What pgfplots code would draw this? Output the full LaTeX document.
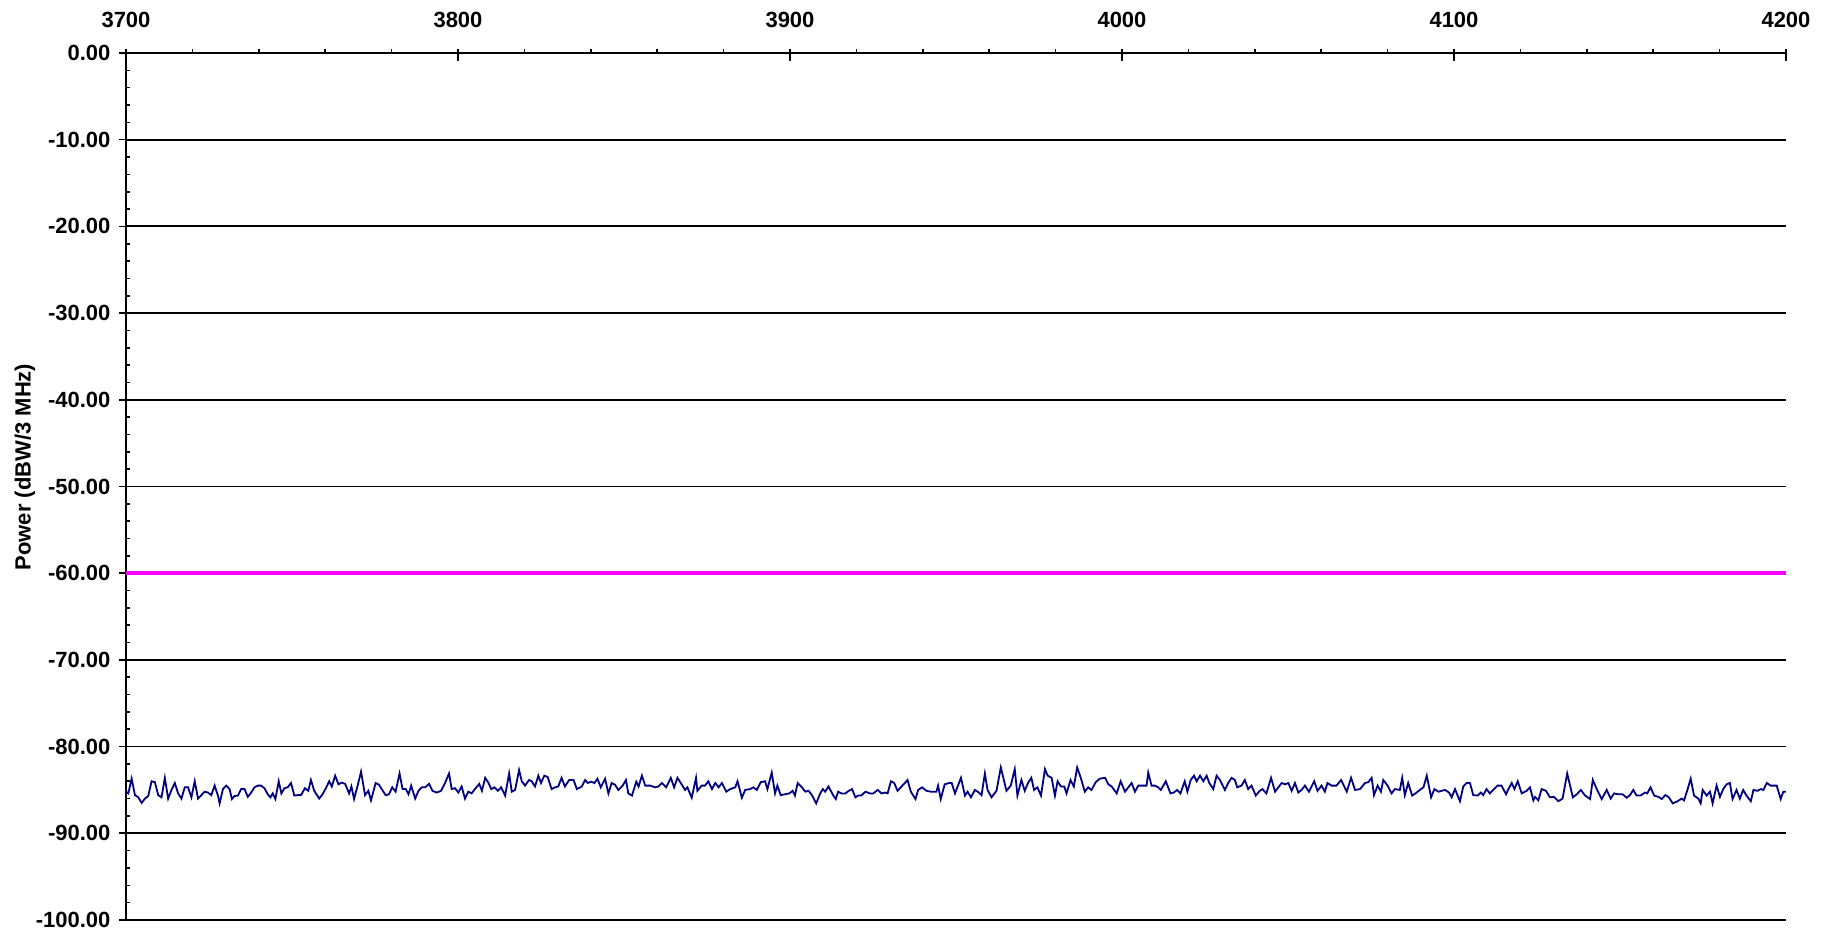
\documentclass[border=0pt]{standalone}
\usepackage{fontspec}
\setmainfont{Liberation Sans}
\usepackage{pgfplots}
\pgfplotsset{compat=1.18}
\definecolor{trace}{RGB}{0,0,128}
\definecolor{limit}{RGB}{255,0,255}

\pgfplotstableread{
f dB
3700.0 -85.2
3700.7 -85.4
3701.7 -83.7
3702.7 -85.6
3703.7 -85.85
3704.7 -86.5
3705.7 -86.0
3706.7 -85.7
3707.7 -84.0
3708.7 -84.1
3709.7 -85.6
3710.7 -85.85
3711.7 -83.6
3712.7 -86.0
3713.7 -85.0
3714.7 -84.2
3715.7 -85.4
3716.7 -86.0
3717.7 -84.7
3718.7 -84.7
3719.7 -85.85
3720.7 -84.0
3721.7 -86.0
3722.7 -85.6
3723.7 -85.2
3724.7 -85.3
3725.7 -85.6
3726.7 -84.5
3727.7 -85.65
3728.2 -86.55
3729.2 -84.9
3730.2 -84.5
3731.2 -84.9
3731.9 -86.05
3732.7 -85.7
3733.7 -85.65
3734.7 -84.9
3735.7 -84.9
3736.7 -85.8
3737.7 -85.3
3738.7 -84.7
3739.7 -84.5
3740.7 -84.5
3741.7 -84.8
3742.7 -85.5
3743.5 -85.85
3744.2 -85.4
3745.0 -86.05
3746.0 -84.0
3746.8 -85.4
3747.7 -84.8
3748.7 -84.7
3749.7 -84.2
3750.7 -85.65
3751.7 -85.6
3752.7 -85.6
3753.9 -84.8
3754.9 -85.1
3755.7 -83.85
3756.7 -85.1
3758.2 -86.0
3759.2 -85.5
3760.2 -84.8
3761.2 -84.0
3762.0 -84.6
3763.0 -83.35
3764.0 -84.35
3765.0 -84.15
3766.0 -84.3
3767.2 -85.4
3767.9 -84.6
3768.7 -86.05
3769.7 -84.6
3770.8 -82.9
3772.0 -85.6
3773.0 -85.1
3773.8 -86.2
3775.2 -84.2
3776.2 -84.4
3777.2 -85.0
3778.2 -85.6
3779.2 -85.5
3780.2 -84.7
3781.2 -85.2
3782.4 -83.1
3783.3 -84.9
3784.3 -84.9
3785.1 -85.5
3785.9 -84.5
3787.1 -86.0
3788.1 -85.1
3789.1 -84.7
3790.1 -84.7
3791.3 -84.3
3792.3 -85.1
3793.6 -85.3
3794.9 -85.1
3796.1 -84.2
3797.3 -83.1
3798.1 -84.9
3799.1 -84.8
3800.1 -85.3
3801.1 -84.6
3802.1 -86.0
3803.1 -85.2
3804.1 -85.4
3805.1 -84.9
3806.4 -84.3
3807.2 -85.1
3808.2 -83.6
3809.2 -84.2
3810.0 -84.9
3811.0 -84.7
3812.0 -85.1
3813.0 -84.7
3814.2 -85.65
3815.4 -83.1
3816.2 -85.2
3817.2 -85.0
3818.4 -82.7
3819.2 -84.0
3820.2 -84.5
3821.4 -83.85
3822.2 -84.0
3823.2 -84.6
3824.2 -83.35
3825.0 -84.2
3826.0 -83.35
3827.0 -83.5
3828.2 -84.9
3829.2 -84.7
3830.2 -84.6
3831.2 -83.6
3832.2 -84.6
3833.5 -83.85
3834.8 -83.85
3835.8 -84.9
3837.3 -84.6
3838.3 -83.85
3839.1 -84.2
3840.1 -84.05
3841.1 -84.2
3842.0 -83.7
3843.0 -84.7
3844.3 -83.7
3845.3 -85.4
3846.3 -84.2
3847.3 -84.4
3848.3 -85.0
3849.6 -84.5
3850.6 -83.85
3851.3 -85.4
3852.4 -85.65
3853.7 -84.05
3854.4 -84.6
3855.4 -83.35
3856.4 -84.5
3857.9 -84.5
3859.4 -84.7
3860.4 -84.6
3861.4 -84.2
3862.7 -84.7
3864.1 -83.6
3865.1 -84.7
3866.1 -83.6
3867.1 -84.2
3868.4 -85.0
3869.1 -84.7
3870.4 -85.9
3871.7 -83.6
3872.1 -85.1
3873.4 -84.5
3874.4 -84.5
3875.4 -84.0
3876.5 -84.9
3877.5 -84.2
3878.5 -84.7
3879.5 -84.2
3880.8 -85.2
3882.0 -84.9
3883.5 -84.7
3884.2 -84.0
3885.5 -85.9
3886.5 -85.0
3888.0 -84.9
3889.0 -84.7
3890.0 -85.0
3891.2 -84.1
3892.5 -84.0
3893.2 -84.9
3894.5 -83.0
3895.5 -85.4
3896.2 -84.5
3897.2 -85.6
3898.5 -85.5
3899.8 -85.4
3900.8 -85.1
3901.5 -85.65
3902.3 -84.2
3903.6 -84.7
3904.6 -85.2
3905.6 -85.1
3906.6 -85.6
3907.9 -86.55
3909.1 -85.4
3909.9 -84.9
3910.6 -85.2
3911.6 -84.6
3912.0 -84.9
3913.0 -85.6
3913.8 -86.05
3914.5 -85.2
3915.5 -85.4
3916.7 -85.4
3917.7 -85.1
3918.7 -84.9
3919.7 -85.85
3920.5 -85.65
3921.5 -85.65
3922.7 -85.2
3924.1 -85.4
3925.1 -85.4
3926.4 -85.0
3927.6 -85.4
3928.6 -85.3
3929.4 -85.4
3930.4 -84.0
3931.4 -84.2
3932.4 -85.1
3933.6 -84.6
3934.6 -84.2
3935.4 -83.85
3936.4 -85.2
3937.8 -86.05
3938.6 -85.0
3939.8 -84.7
3941.1 -85.1
3942.4 -85.2
3944.1 -85.2
3944.6 -84.5
3945.4 -86.05
3946.6 -84.35
3947.9 -84.2
3948.7 -84.2
3949.7 -85.4
3950.5 -84.6
3951.5 -83.6
3952.7 -85.65
3953.5 -85.2
3954.5 -85.85
3955.7 -85.0
3956.9 -85.3
3957.7 -85.6
3958.7 -83.1
3959.5 -85.0
3960.7 -85.85
3962.2 -85.1
3963.5 -82.4
3965.2 -85.1
3966.5 -84.5
3967.7 -82.6
3968.5 -85.65
3969.7 -83.85
3970.7 -85.1
3971.7 -84.2
3972.7 -83.6
3973.5 -85.0
3974.5 -84.7
3975.6 -85.65
3976.8 -82.6
3977.6 -83.35
3978.8 -83.6
3979.8 -85.65
3980.6 -84.0
3981.6 -84.6
3982.6 -84.6
3983.3 -85.4
3984.5 -83.85
3985.5 -84.6
3986.5 -82.4
3987.5 -83.5
3988.8 -85.2
3989.8 -84.7
3990.8 -85.0
3992.1 -84.1
3993.3 -83.7
3994.9 -83.6
3995.9 -84.35
3996.9 -84.6
3998.4 -85.4
3999.6 -84.0
4000.9 -85.2
4001.9 -84.7
4002.9 -84.2
4003.9 -85.2
4004.9 -84.5
4006.4 -84.5
4007.4 -84.5
4007.9 -83.0
4008.9 -84.5
4009.9 -84.5
4010.9 -84.7
4011.7 -85.0
4013.2 -84.0
4014.6 -85.4
4015.6 -85.3
4016.6 -85.0
4017.6 -85.4
4018.9 -84.0
4019.7 -85.2
4020.7 -83.85
4021.7 -83.35
4022.5 -84.0
4023.5 -83.35
4024.5 -84.0
4025.5 -83.35
4026.3 -84.2
4027.5 -84.9
4028.5 -83.35
4029.5 -83.85
4031.0 -85.0
4032.0 -84.2
4033.0 -83.6
4034.0 -83.85
4034.7 -84.7
4036.0 -84.5
4037.0 -83.85
4038.0 -84.9
4039.0 -84.5
4040.3 -85.65
4041.5 -85.1
4042.3 -84.9
4043.5 -85.4
4044.9 -83.6
4046.1 -85.2
4047.1 -84.7
4048.1 -84.2
4049.1 -84.35
4050.1 -84.2
4051.1 -85.1
4052.1 -84.2
4053.1 -85.3
4054.1 -85.0
4055.1 -84.5
4056.3 -85.2
4057.9 -84.0
4058.9 -85.1
4060.1 -84.5
4061.1 -85.2
4061.9 -84.2
4063.1 -84.5
4064.6 -84.5
4066.0 -83.85
4067.7 -85.2
4069.0 -83.6
4070.2 -85.0
4071.7 -84.9
4073.2 -84.2
4074.2 -84.1
4075.2 -83.6
4075.9 -85.6
4077.0 -84.5
4078.0 -85.2
4078.7 -83.85
4080.0 -84.5
4081.2 -85.4
4082.2 -84.9
4083.7 -85.0
4084.4 -83.6
4085.2 -85.6
4086.2 -84.2
4087.4 -85.65
4088.4 -85.4
4089.4 -85.1
4090.8 -84.7
4091.8 -83.35
4093.1 -85.85
4094.1 -84.9
4095.3 -85.2
4096.3 -85.1
4097.3 -85.0
4098.5 -85.3
4099.3 -85.85
4100.3 -84.9
4101.8 -86.3
4102.8 -84.6
4103.8 -84.2
4104.8 -84.2
4105.8 -85.6
4107.1 -85.65
4108.1 -85.3
4108.8 -85.6
4109.8 -84.9
4110.8 -85.4
4111.8 -85.0
4113.1 -84.5
4114.3 -84.5
4115.7 -85.5
4116.4 -84.9
4117.4 -84.2
4118.2 -84.9
4119.2 -84.0
4120.4 -85.4
4121.9 -85.1
4122.9 -84.7
4123.9 -86.2
4124.4 -85.8
4125.4 -86.2
4126.4 -84.9
4127.7 -85.1
4128.9 -85.85
4130.1 -85.8
4131.4 -86.3
4132.7 -86.0
4134.1 -83.1
4135.8 -85.85
4137.0 -85.5
4138.2 -85.0
4139.5 -85.65
4141.0 -86.05
4141.8 -83.85
4143.0 -84.9
4144.5 -86.05
4146.0 -85.0
4147.2 -86.0
4148.2 -85.4
4149.5 -85.5
4150.8 -85.5
4152.0 -85.9
4153.0 -85.6
4154.0 -85.0
4155.0 -85.65
4156.2 -85.65
4157.5 -85.3
4158.2 -85.4
4159.2 -84.7
4160.3 -85.65
4161.6 -85.8
4162.6 -86.05
4163.6 -85.6
4164.6 -85.8
4165.9 -86.55
4167.1 -86.35
4168.6 -86.0
4169.3 -86.2
4170.3 -85.0
4171.3 -83.7
4172.3 -85.65
4173.6 -86.0
4174.3 -86.55
4174.9 -85.0
4176.1 -85.65
4177.1 -85.2
4177.9 -86.55
4179.1 -84.5
4180.1 -85.8
4181.1 -84.9
4182.1 -84.35
4183.1 -84.2
4183.9 -86.05
4185.1 -85.0
4186.1 -86.0
4187.1 -85.0
4188.1 -85.65
4189.4 -86.3
4190.2 -85.0
4191.4 -85.1
4192.4 -84.9
4193.2 -85.0
4194.2 -84.2
4195.4 -84.5
4197.2 -84.5
4198.4 -86.05
4199.2 -85.2
4200.0 -85.2
}\noise

\pgfplotstableread{
f dB
3700 -60
4200 -60
}\mask

\begin{document}
\begin{tikzpicture}
\path[use as bounding box] (-63pt,-5.5pt) rectangle (851pt,460pt);
\begin{axis}[
    at={(0,0)}, anchor=south west,
    scale only axis,
    width=830pt, height=433.5pt,
    xmin=3700, xmax=4200,
    ymin=-100, ymax=0,
    axis x line*=top,
    axis y line*=left,
    axis line style={-, line width=1.1pt, black},
    xtick distance=100,
    ytick distance=10,
    minor x tick num=4,
    minor y tick num=4,
    ymajorgrids,
    major grid style={black, line width=0.9pt},
    tick align=outside,
    major tick length=6pt,
    minor tick length=2pt,
    tick style={black, line width=0.8pt},
    major x tick style={yshift=-4pt},
    major y tick style={xshift=2.5pt},
    minor y tick style={xshift=2pt},
    ticklabel style={font=\fontsize{11}{13}\selectfont\bfseries},
    /pgf/number format/assume math mode=true,
    x tick label style={yshift=3pt, /pgf/number format/1000 sep={}},
    y tick label style={xshift=1.75pt, /pgf/number format/.cd, fixed, fixed zerofill, precision=2},
    ylabel={Power (dBW/3 MHz)},
    ylabel style={font=\fontsize{11}{13}\selectfont\bfseries,
        at={(rel axis cs:0,0.5225)}, anchor=center, yshift=50.5pt},
    clip=false,
]
\addplot[limit, line width=1.8pt] table[x=f, y=dB] {\mask};
\addplot[trace, line width=0.9pt] table[x=f, y=dB] {\noise};
\end{axis}
\end{tikzpicture}
\end{document}
